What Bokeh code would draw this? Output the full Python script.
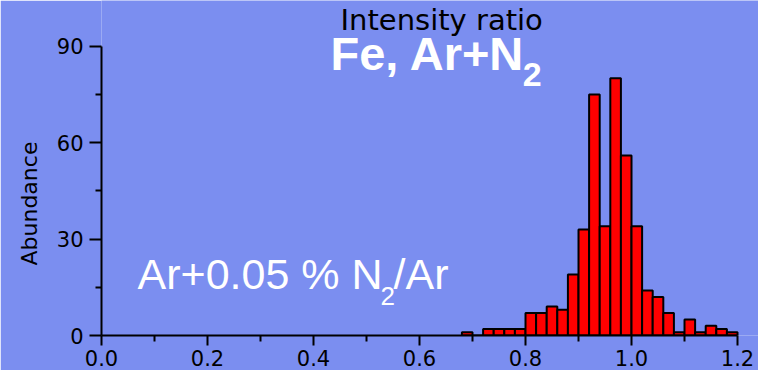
from bokeh.plotting import figure
from bokeh.models import ColumnDataSource, Range1d, FixedTicker, Label, Title
from bokeh.embed import file_html
from bokeh.resources import INLINE

# Histogram of intensity ratio (bin width 0.02)
bin_left = [0.68, 0.70, 0.72, 0.74, 0.76, 0.78, 0.80, 0.82, 0.84, 0.86,
            0.88, 0.90, 0.92, 0.94, 0.96, 0.98, 1.00, 1.02, 1.04, 1.06,
            1.08, 1.10, 1.12, 1.14, 1.16, 1.18]
bin_width = 0.02
counts = [1, 0, 2, 2, 2, 2, 7, 7, 9, 8,
          19, 33, 75, 34, 80, 56, 34, 14, 12, 7,
          1, 5, 1, 3, 2, 1]

x_ticks = [0.0, 0.2, 0.4, 0.6, 0.8, 1.0, 1.2]
x_minor = [0.1, 0.3, 0.5, 0.7, 0.9, 1.1]
y_ticks = [0, 30, 60, 90]
y_minor = [15, 45, 75]

BG = "#7B8EF0"
FONT = "Liberation Sans"
TICKFONT = "DejaVu Sans"

src = ColumnDataSource(dict(
    left=bin_left,
    right=[b + bin_width for b in bin_left],
    top=counts,
    bottom=[0] * len(counts),
))

# frame reaches the top and right edges of the canvas; the axes stop at 1.2 and 90
p = figure(width=758, height=370, output_backend="svg", toolbar_location=None,
           x_range=Range1d(0, 1.2396), y_range=Range1d(0, 104.2),
           min_border_left=101, min_border_right=0,
           min_border_top=0, min_border_bottom=35)
p.background_fill_color = BG
p.border_fill_color = BG
p.outline_line_color = None
p.xgrid.grid_line_color = None
p.ygrid.grid_line_color = None

ytitle = Title(text="Abundance", text_font=TICKFONT, text_font_size="22px",
               text_font_style="normal", text_color="black",
               align="left", offset=70, standoff=24)
p.add_layout(ytitle, "left")

p.quad(left="left", right="right", top="top", bottom="bottom", source=src,
       fill_color="#FF0000", line_color="black", line_width=2)

for ax in (p.xaxis[0], p.yaxis[0]):
    ax.axis_line_width = 2
    ax.axis_line_color = "black"
    ax.major_tick_line_width = 2
    ax.minor_tick_line_width = 2
    ax.major_tick_line_color = "black"
    ax.minor_tick_line_color = "black"
    ax.major_tick_in = 0
    ax.minor_tick_in = 0
    ax.major_label_text_font = TICKFONT
    ax.major_label_text_font_size = "21px"
    ax.major_label_text_color = "black"

p.xaxis[0].ticker = FixedTicker(ticks=x_ticks, minor_ticks=x_minor)
p.yaxis[0].ticker = FixedTicker(ticks=y_ticks, minor_ticks=y_minor)
p.xaxis[0].bounds = (0, 1.2)
p.yaxis[0].bounds = (0, 90)
p.xaxis[0].major_label_overrides = {t: f"{t:.1f}" for t in x_ticks}
p.xaxis[0].major_tick_out = 10
p.xaxis[0].minor_tick_out = 6
p.xaxis[0].major_label_standoff = 4
p.yaxis[0].major_tick_out = 12
p.yaxis[0].minor_tick_out = 6
p.yaxis[0].major_label_standoff = 6

def lab(text, x, y, size, color, bold=False, font=FONT):
    p.add_layout(Label(x=x, y=y, text=text, text_font=font,
                       text_font_size=size, text_color=color,
                       text_font_style="bold" if bold else "normal",
                       text_align="left", text_baseline="alphabetic"))

# header
lab("Intensity ratio", 0.4510, 98.0, "29px", "black", font=TICKFONT)
lab("Fe, Ar+N", 0.4320, 87.6, "47px", "white", bold=True)
lab("2", 0.7950, 81.3, "34px", "white", bold=True)
# annotation
lab("Ar+0.05 % N", 0.0680, 19.1, "43px", "white")
lab("2", 0.5264, 12.4, "26px", "white")
lab("/Ar", 0.5510, 19.1, "43px", "white")

open("out.html", "w").write(file_html(p, INLINE))
